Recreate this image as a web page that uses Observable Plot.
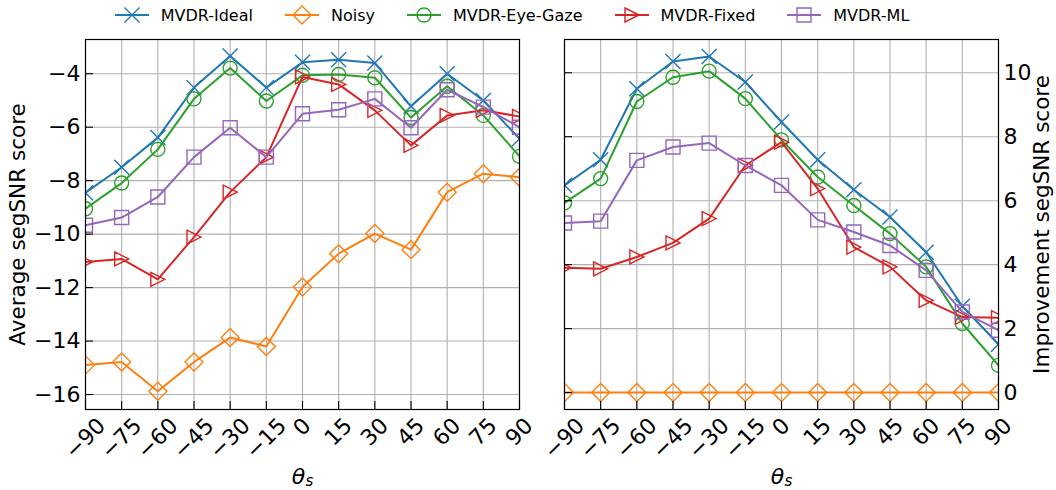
<!DOCTYPE html>
<html>
<head>
<meta charset="utf-8">
<script src="https://cdn.jsdelivr.net/npm/d3@7"></script>
<script src="https://cdn.jsdelivr.net/npm/@observablehq/plot@0.6"></script>
<style>
  body { margin: 0; background: #fff; font-family: "DejaVu Sans", sans-serif; }
  #wrap { width: 1056px; height: 490px; overflow: hidden; }
  #legend { height: 30px; display: flex; align-items: center; justify-content: center; font-size: 16px; color: #000; padding-right: 32px; box-sizing: border-box; }
  .item { display: flex; align-items: center; margin: 0 16px; }
  .item svg { margin-right: 12px; }
  #panels { display: flex; }
  #panels svg { display: block; }
</style>
</head>
<body>
<div id="wrap">
  <div id="legend"></div>
  <div id="panels"></div>
</div>
<script>
// Source angle θs in degrees
const angles = [-90, -75, -60, -45, -30, -15, 0, 15, 30, 45, 60, 75, 90];
const seriesNames = ["MVDR-Ideal", "Noisy", "MVDR-Eye-Gaze", "MVDR-Fixed", "MVDR-ML"];
const seriesColors = ["#1f77b4", "#ff7f0e", "#2ca02c", "#d62728", "#9467bd"];

// Average segSNR score per angle
const avgIdeal   = [-8.45, -7.50, -6.39, -4.52, -3.34, -4.52, -3.57, -3.48, -3.60, -5.22, -4.00, -5.00, -6.43];
const avgNoisy   = [-14.90, -14.78, -15.88, -14.78, -13.87, -14.20, -11.98, -10.73, -9.98, -10.58, -8.43, -7.74, -7.87];
const avgEyeGaze = [-9.05, -8.09, -6.83, -4.94, -3.79, -5.02, -4.06, -4.03, -4.15, -5.64, -4.47, -5.56, -7.09];
const avgFixed   = [-11.04, -10.93, -11.69, -10.11, -8.43, -7.12, -4.12, -4.40, -5.37, -6.68, -5.56, -5.37, -5.60];
const avgML      = [-9.67, -9.38, -8.61, -7.12, -6.02, -7.12, -5.50, -5.35, -4.94, -6.02, -4.60, -5.25, -6.00];

// Improvement in segSNR score over the noisy input
const impIdeal   = [6.48, 7.28, 9.50, 10.35, 10.51, 9.71, 8.46, 7.28, 6.34, 5.49, 4.39, 2.70, 1.51];
const impNoisy   = [0, 0, 0, 0, 0, 0, 0, 0, 0, 0, 0, 0, 0];
const impEyeGaze = [5.93, 6.69, 9.10, 9.86, 10.05, 9.19, 7.90, 6.74, 5.85, 4.97, 3.93, 2.16, 0.85];
const impFixed   = [3.90, 3.87, 4.24, 4.68, 5.44, 7.10, 7.83, 6.38, 4.55, 3.93, 2.88, 2.36, 2.34];
const impML      = [5.30, 5.36, 7.26, 7.68, 7.80, 7.10, 6.48, 5.40, 5.02, 4.60, 3.82, 2.52, 1.95];

const avgTicks = [-16, -14, -12, -10, -8, -6, -4];
const impTicks = [0, 2, 4, 6, 8, 10];

// Hollow marker shapes (size = π r², as Plot passes it)
const rOf = s => Math.sqrt(s / Math.PI);
const markers = [
  { draw(c, s) { const r = rOf(s); c.moveTo(-r, -r); c.lineTo(r, r); c.moveTo(-r, r); c.lineTo(r, -r); } },
  { draw(c, s) { const r = rOf(s); c.moveTo(0, -r); c.lineTo(r, 0); c.lineTo(0, r); c.lineTo(-r, 0); c.closePath(); } },
  { draw(c, s) { const r = rOf(s); c.moveTo(r, 0); c.arc(0, 0, r, 0, 2 * Math.PI); c.closePath(); } },
  { draw(c, s) { const r = rOf(s); c.moveTo(r, 0); c.lineTo(-r, -r); c.lineTo(-r, r); c.closePath(); } },
  { draw(c, s) { const r = rOf(s); c.moveTo(-r, -r); c.lineTo(r, -r); c.lineTo(r, r); c.lineTo(-r, r); c.closePath(); } }
];
const markerR = [7.5, 9, 7, 7, 7];

const fmt = d => String(d).replace("-", "\u2212");

const W = 528, H = 460, MT = 9, MB = 81;
const frameH = H - MT - MB;

function seriesMarks(valuesList) {
  const out = [];
  valuesList.forEach((vals, i) => {
    const rows = angles.map((a, j) => ({ angle: a, value: vals[j] }));
    out.push(Plot.line(rows, { x: "angle", y: "value", stroke: seriesColors[i], strokeWidth: 2, clip: true }));
    out.push(Plot.dot(rows, { x: "angle", y: "value", stroke: seriesColors[i], fill: "none", strokeWidth: 1.4, r: markerR[i], symbol: markers[i], clip: true }));
  });
  return out;
}

function panel({ yDomain, yTicks, values, ml, mr, yLabel, side }) {
  const frameW = W - ml - mr;
  const chart = Plot.plot({
    width: W, height: H,
    marginTop: MT, marginBottom: MB, marginLeft: ml, marginRight: mr,
    style: { fontFamily: "DejaVu Sans", fontSize: "22px", color: "#000", background: "transparent", overflow: "visible" },
    x: { domain: [-90, 90] },
    y: { domain: yDomain },
    marks: [
      Plot.gridX(angles, { stroke: "#b0b0b0", strokeOpacity: 1, strokeWidth: 1.1 }),
      Plot.gridY(yTicks, { stroke: "#b0b0b0", strokeOpacity: 1, strokeWidth: 1.1 }),
      ...seriesMarks(values),
      Plot.frame({ stroke: "#000", strokeWidth: 1.2 }),
      Plot.tickY(yTicks, { y: d => d, insetRight: frameW - 8, stroke: "#000", strokeWidth: 1.1 }),
      Plot.tickX(angles, { x: d => d, insetTop: frameH - 8, stroke: "#000", strokeWidth: 1.1 }),
      Plot.axisY(yTicks, { anchor: side, tickSize: 0, tickPadding: 5, tickFormat: fmt, label: null, fontSize: 22 }),
      Plot.axisX(angles, { anchor: "bottom", tickSize: 0, tickPadding: 5, tickRotate: -45, tickFormat: fmt, label: null, fontSize: 22 }),
      Plot.text([yLabel], { frameAnchor: side, dx: side === "left" ? -67 : 44, rotate: -90, fontSize: 21.5, textAnchor: "middle", lineAnchor: "middle" }),
      Plot.text(["θ"], { frameAnchor: "bottom", dx: -4, dy: 67, fontSize: 22, fontStyle: "italic", lineAnchor: "middle" }),
      Plot.text(["s"], { frameAnchor: "bottom", dx: 7, dy: 72, fontSize: 15, fontStyle: "italic", lineAnchor: "middle" })
    ]
  });
  return chart;
}

// Place rotated tick labels so each box is centred on its tick and hangs below the frame
function alignTickLabels(chart) {
  const x = chart.scale("x");
  const svgR = chart.getBoundingClientRect();
  const texts = chart.querySelectorAll('g[aria-label="x-axis tick label"] text');
  texts.forEach((t, i) => {
    const r = t.getBoundingClientRect();
    const cx = (r.left + r.right) / 2 - svgR.left;
    const top = r.top - svgR.top;
    const dx = x.apply(angles[i]) - cx;
    const dy = (MT + frameH + 4) - top;
    const tr = t.getAttribute("transform") || "";
    t.setAttribute("transform", `translate(${dx},${dy}) ${tr}`);
  });
}

// Legend
const legend = document.getElementById("legend");
seriesNames.forEach((name, i) => {
  const item = document.createElement("div");
  item.className = "item";
  const s = d3.create("svg").attr("width", 34).attr("height", 22);
  s.append("line").attr("x1", 0).attr("x2", 34).attr("y1", 11).attr("y2", 11)
    .attr("stroke", seriesColors[i]).attr("stroke-width", 2);
  const p = d3.path();
  markers[i].draw(p, Math.PI * markerR[i] * markerR[i]);
  s.append("path").attr("d", p.toString()).attr("transform", "translate(17,11)")
    .attr("fill", "none").attr("stroke", seriesColors[i]).attr("stroke-width", 1.4);
  item.appendChild(s.node());
  const label = document.createElement("span");
  label.textContent = name;
  item.appendChild(label);
  legend.appendChild(item);
});

const panels = document.getElementById("panels");
const left = panel({
  yDomain: [-16.56, -2.72], yTicks: avgTicks,
  values: [avgIdeal, avgNoisy, avgEyeGaze, avgFixed, avgML],
  ml: 85, mr: 9, yLabel: "Average segSNR score", side: "left"
});
const right = panel({
  yDomain: [-0.53, 11.04], yTicks: impTicks,
  values: [impIdeal, impNoisy, impEyeGaze, impFixed, impML],
  ml: 36, mr: 58, yLabel: "Improvement segSNR score", side: "right"
});
panels.appendChild(left);
panels.appendChild(right);
alignTickLabels(left);
alignTickLabels(right);
</script>
</body>
</html>
